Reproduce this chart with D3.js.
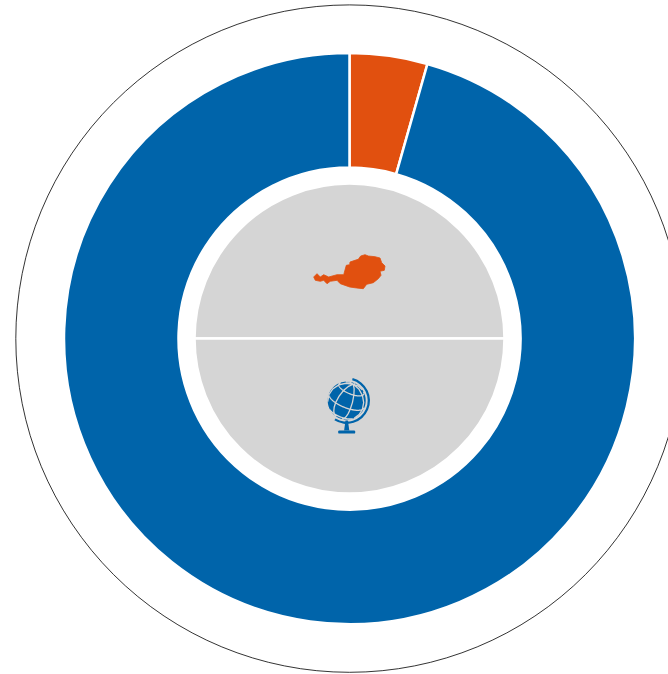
<!DOCTYPE html>
<html>
<head>
<meta charset="utf-8">
<style>
  body { margin: 0; background: #fff; overflow: hidden; }
  svg { display: block; }
</style>
</head>
<body>
<div id="wrapper"></div>
<script src="https://cdn.jsdelivr.net/npm/d3@7"></script>
<script>
const categories = ["Austria", "World"]
const ringValues = [4.4, 95.6]
const innerValues = [50, 50]
const colors = ["#e1500f", "#0064aa"]

// Austria outline (icon, not data), relative to its own centre
const austriaOutline = [
  [-50.3,4],[-47,.7],[-43.7,4],[-40.3,1.7],[-35.3,4],[-27,1.7],[-20.3,1.7],[-17.7,-7.7],[-14.3,-8.3],
  [-14,-11],[-9,-12.7],[-5.7,-13.7],[-3.3,-17],[1,-18.3],[4.3,-17],[11,-16.3],[16,-15],[17.7,-10.3],
  [21,-7],[20.3,-2.7],[16,-1.7],[17,2.3],[14.3,5.7],[9.3,9.7],[2.7,11.3],[-.7,15.7],[-7.3,15],[-14.3,14],
  [-23.7,10.7],[-27,7.3],[-33.7,8.3],[-37,10.7],[-40.3,7.3],[-43.7,8.3],[-48.7,7.3]
]

async function drawChart() {

  // 1. Dimensions

  const dimensions = {
    width: 668,
    height: 674,
    cx: 349.5,
    cy: 338.6,
    outline: 333.7,
    ringOuter: 285.5,
    ringInner: 171,
    innerDisc: 155,
  }

  const svg = d3.select("#wrapper")
    .append("svg")
      .attr("width", dimensions.width)
      .attr("height", dimensions.height)

  const bounds = svg.append("g")
      .attr("transform", `translate(${dimensions.cx}, ${dimensions.cy})`)

  // 2. Outer thin circle

  bounds.append("circle")
      .attr("r", dimensions.outline)
      .attr("fill", "none")
      .attr("stroke", "#000")
      .attr("stroke-width", 0.8)

  // 3. Ring

  const pie = d3.pie().sort(null)
  const ringArc = d3.arc()
      .innerRadius(dimensions.ringInner)
      .outerRadius(dimensions.ringOuter)

  bounds.append("g").selectAll("path")
    .data(pie(ringValues))
    .join("path")
      .attr("d", ringArc)
      .attr("fill", (d, i) => colors[i])
      .attr("stroke", "#fff")
      .attr("stroke-width", 2.5)

  // 4. Inner grey disc, split in two

  const innerPie = d3.pie().sort(null).startAngle(-Math.PI / 2).endAngle(Math.PI * 1.5)
  const innerArc = d3.arc().innerRadius(0).outerRadius(dimensions.innerDisc)

  bounds.append("g").selectAll("path")
    .data(innerPie(innerValues))
    .join("path")
      .attr("class", (d, i) => categories[i])
      .attr("d", innerArc)
      .attr("fill", "#d5d5d5")
      .attr("stroke", "#fff")
      .attr("stroke-width", 2.5)

  // 5. Austria icon

  const outlineLine = d3.line().curve(d3.curveLinearClosed)
  bounds.append("path")
      .attr("transform", "translate(14.5, -65.6)")
      .attr("d", outlineLine(austriaOutline))
      .attr("fill", colors[0])
      .attr("stroke", colors[0])
      .attr("stroke-width", 0.8)
      .attr("stroke-linejoin", "round")

  // 6. Globe icon

  const globe = bounds.append("g")
      .attr("transform", "translate(-2.8, 62)")

  const projection = d3.geoOrthographic()
      .scale(19)
      .translate([0, 0])
      .rotate([20, -22, -22])
      .clipAngle(90)
  const geoPath = d3.geoPath(projection)

  globe.append("path")
      .attr("d", geoPath({type: "Sphere"}))
      .attr("fill", colors[1])

  globe.append("path")
      .attr("d", geoPath(d3.geoGraticule().step([50, 45])()))
      .attr("fill", "none")
      .attr("stroke", "#d5d5d5")
      .attr("stroke-width", 1.3)

  // arm round the globe
  globe.append("path")
      .attr("d", d3.arc().innerRadius(21).outerRadius(23.3).startAngle(0.26).endAngle(3.7)())
      .attr("fill", colors[1])

  // stand
  globe.append("path")
      .attr("d", "M-1.2,20 L1.2,20 L2.6,30 L-2.6,30 Z")
      .attr("fill", colors[1])
  globe.append("rect")
      .attr("x", -8.5).attr("y", 29.8).attr("width", 17).attr("height", 3.2).attr("rx", 1.2)
      .attr("fill", colors[1])
}
drawChart()
</script>
</body>
</html>
